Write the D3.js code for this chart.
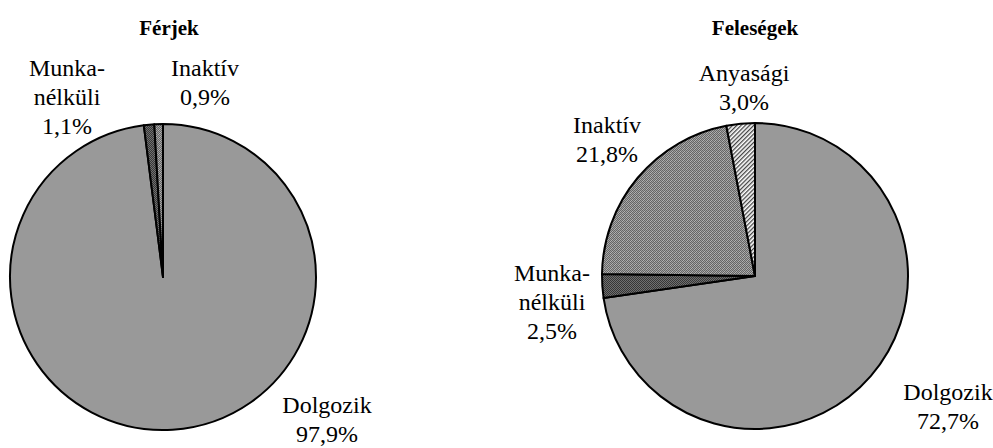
<!DOCTYPE html>
<html>
<head>
<meta charset="utf-8">
<script src="https://cdn.jsdelivr.net/npm/d3@7"></script>
</head>
<body style="margin:0">
<svg id="chart" width="993" height="448"></svg>
<script>
// ---- data ----
const titles = ["Férjek", "Feleségek"];
const categoriesHusbands = ["Dolgozik", "Munkanélküli", "Inaktív"];
const valuesHusbands = [97.9, 1.1, 0.9];
const categoriesWives = ["Dolgozik", "Munkanélküli", "Inaktív", "Anyasági"];
const valuesWives = [72.7, 2.5, 21.8, 3.0];
const labelLines = {
  "Dolgozik": ["Dolgozik"],
  "Munkanélküli": ["Munka-", "nélküli"],
  "Inaktív": ["Inaktív"],
  "Anyasági": ["Anyasági"]
};

// ---- layout ----
const serifFont = "Liberation Serif";
const R = 153;
const fills = {
  "Dolgozik": "#999999",
  "Munkanélküli": "url(#patDark)",
  "Inaktív": "url(#patMid)",
  "Anyasági": "url(#patHatch)"
};
// label anchor offsets from pie centre (first-line baseline)
const labelPos = [
  { "Dolgozik": [164, 136], "Munkanélküli": [-96, -201], "Inaktív": [42, -201] },
  { "Dolgozik": [193, 124], "Munkanélküli": [-203, 5], "Inaktív": [-148, -143], "Anyasági": [-11, -195] }
];
const pies = [
  { cx: 163, cy: 277, cats: categoriesHusbands, vals: valuesHusbands, title: titles[0], tx: 169 },
  { cx: 755, cy: 276, cats: categoriesWives, vals: valuesWives, title: titles[1], tx: 755 }
];

const svg = d3.select("#chart");
const defs = svg.append("defs");

// dark checker pattern
const pd = defs.append("pattern").attr("id", "patDark").attr("patternUnits", "userSpaceOnUse")
  .attr("width", 2).attr("height", 2);
pd.append("rect").attr("width", 2).attr("height", 2).attr("fill", "#363636");
pd.append("rect").attr("width", 1).attr("height", 1).attr("fill", "#707070");
pd.append("rect").attr("x", 1).attr("y", 1).attr("width", 1).attr("height", 1).attr("fill", "#707070");

// mid checker pattern
const pm = defs.append("pattern").attr("id", "patMid").attr("patternUnits", "userSpaceOnUse")
  .attr("width", 4).attr("height", 4);
pm.append("rect").attr("width", 4).attr("height", 4).attr("fill", "#666666");
[[0,0],[2,0],[1,1],[3,1],[0,2],[2,2],[1,3],[3,3]].forEach(([x, y], i) => {
  pm.append("rect").attr("x", x).attr("y", y).attr("width", 1).attr("height", 1)
    .attr("fill", i % 3 === 0 ? "#b4b4b4" : "#a0a0a0");
});

// diagonal hatch
const ph = defs.append("pattern").attr("id", "patHatch").attr("patternUnits", "userSpaceOnUse")
  .attr("width", 3).attr("height", 3).attr("patternTransform", "rotate(45)");
ph.append("rect").attr("width", 3).attr("height", 3).attr("fill", "#ffffff");
ph.append("rect").attr("width", 1.3).attr("height", 3).attr("fill", "#444444");

const arc = d3.arc().innerRadius(0).outerRadius(R);
const fmt = v => d3.format(".1f")(v).replace(".", ",") + "%";

pies.forEach((p, idx) => {
  const pie = d3.pie().sort(null).value(d => d.v);
  const data = pie(p.cats.map((c, i) => ({ c, v: p.vals[i] })));
  const g = svg.append("g").attr("transform", `translate(${p.cx},${p.cy})`);
  g.selectAll("path").data(data).enter().append("path")
    .attr("d", arc)
    .attr("fill", d => fills[d.data.c])
    .attr("stroke", "#000")
    .attr("stroke-width", 2)
    .attr("stroke-linejoin", "round");

  svg.append("text")
    .attr("x", p.tx).attr("y", 35)
    .attr("text-anchor", "middle")
    .attr("font-family", serifFont)
    .style("font-family", serifFont)
    .style("font-size", "21px").style("font-weight", "bold")
    .text(p.title);

  data.forEach(d => {
    const pos = labelPos[idx][d.data.c];
    const lines = labelLines[d.data.c].concat([fmt(d.data.v)]);
    lines.forEach((ln, k) => {
      svg.append("text")
        .attr("x", p.cx + pos[0]).attr("y", p.cy + pos[1] + k * 29)
        .attr("text-anchor", "middle")
        .attr("font-family", serifFont)
        .style("font-family", serifFont)
        .style("font-size", "24px")
        .text(ln);
    });
  });
});
</script>
</body>
</html>
